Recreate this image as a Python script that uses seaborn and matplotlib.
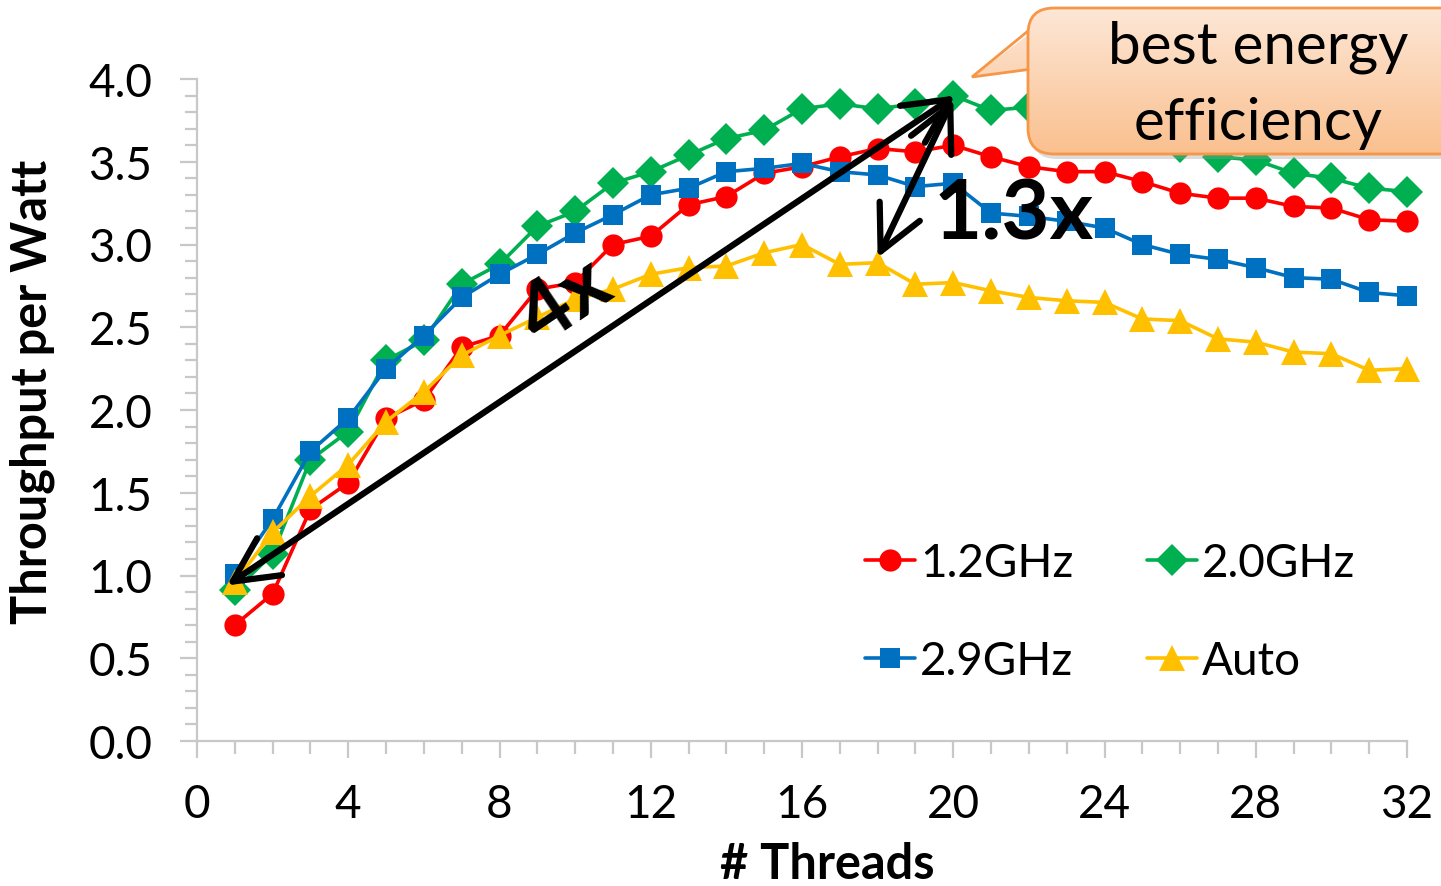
import numpy as np
import pandas as pd
import seaborn as sns
import matplotlib
matplotlib.use("Agg")
import matplotlib.pyplot as plt
from matplotlib.patches import FancyBboxPatch, Polygon
from matplotlib.lines import Line2D
from matplotlib.ticker import MultipleLocator
from matplotlib.colors import LinearSegmentedColormap

# ---------------- data ----------------
threads = list(range(1, 33))
ghz_1_2 = [0.70, 0.89, 1.40, 1.56, 1.95, 2.06, 2.38, 2.45, 2.73, 2.77, 3.00, 3.05,
           3.24, 3.29, 3.43, 3.47, 3.53, 3.58, 3.56, 3.60, 3.53, 3.47, 3.44, 3.44,
           3.38, 3.31, 3.28, 3.28, 3.23, 3.22, 3.15, 3.14]
ghz_2_0 = [0.91, 1.13, 1.70, 1.87, 2.30, 2.42, 2.76, 2.88, 3.11, 3.20, 3.37, 3.44,
           3.54, 3.64, 3.69, 3.82, 3.85, 3.82, 3.85, 3.90, 3.81, 3.83, 3.80, 3.73,
           3.66, 3.59, 3.53, 3.51, 3.43, 3.40, 3.34, 3.32]
ghz_2_9 = [1.01, 1.34, 1.75, 1.95, 2.25, 2.45, 2.68, 2.82, 2.94, 3.07, 3.18, 3.30,
           3.34, 3.44, 3.46, 3.49, 3.44, 3.42, 3.35, 3.37, 3.19, 3.17, 3.14, 3.10,
           3.00, 2.94, 2.91, 2.86, 2.80, 2.79, 2.71, 2.69]
auto = [0.96, 1.26, 1.48, 1.67, 1.93, 2.11, 2.33, 2.45, 2.56, 2.67, 2.73, 2.82,
        2.86, 2.87, 2.95, 3.00, 2.88, 2.89, 2.76, 2.77, 2.72, 2.68, 2.66, 2.65,
        2.55, 2.54, 2.43, 2.41, 2.35, 2.34, 2.24, 2.25]

series_names = ["1.2GHz", "2.0GHz", "2.9GHz", "Auto"]
series_values = [ghz_1_2, ghz_2_0, ghz_2_9, auto]
x_ticks = [0, 4, 8, 12, 16, 20, 24, 28, 32]
y_ticks = [0.0, 0.5, 1.0, 1.5, 2.0, 2.5, 3.0, 3.5, 4.0]
y_tick_labels = ["0.0", "0.5", "1.0", "1.5", "2.0", "2.5", "3.0", "3.5", "4.0"]

colors = ["#FF0000", "#00B050", "#0070C0", "#FFC000"]
markers = ["o", "D", "s", "^"]
msizes = [16, 16, 15, 19]

# ---------------- style ----------------
sns.set_theme(style="white")
plt.rcParams["font.family"] = ["Lato", "DejaVu Sans"]
plt.rcParams["text.color"] = "black"
plt.rcParams["axes.labelcolor"] = "black"

W, H = 1441, 887
fig = plt.figure(figsize=(W / 100, H / 100), dpi=100)
ax = fig.add_axes([197 / W, 145 / H, 1210 / W, 662 / H])

df = pd.DataFrame({
    "threads": threads * len(series_names),
    "value": sum(series_values, []),
    "series": sum([[n] * len(threads) for n in series_names], []),
})

handles = {}
for name, col, mk, ms in zip(series_names, colors, markers, msizes):
    sub = df[df["series"] == name]
    sns.lineplot(data=sub, x="threads", y="value", ax=ax, color=col,
                 marker=mk, markersize=ms, markeredgewidth=0, linewidth=2.6,
                 clip_on=False, label=name, legend=False)
    handles[name] = Line2D([], [], color=col, marker=mk, markersize=ms,
                           markeredgewidth=0, linewidth=2.6)

ax.set_xlim(0, 32)
ax.set_ylim(0, 4)
ax.set_xticks(x_ticks)
ax.set_yticks(y_ticks)
ax.set_yticklabels(y_tick_labels)
ax.xaxis.set_minor_locator(MultipleLocator(1))
ax.yaxis.set_minor_locator(MultipleLocator(0.1))
gray = "#c8c8c8"
for s in ["top", "right"]:
    ax.spines[s].set_visible(False)
for s in ["left", "bottom"]:
    ax.spines[s].set_color(gray)
    ax.spines[s].set_linewidth(1.6)
ax.tick_params(axis="both", which="both", bottom=True, left=True,
               top=False, right=False)
ax.tick_params(axis="both", which="major", direction="out", length=12, width=1.6,
               color=gray, labelsize=33, labelcolor="black")
ax.tick_params(axis="both", which="minor", direction="out", length=9, width=1.6,
               color=gray)
ax.tick_params(axis="x", which="major", pad=18)
ax.tick_params(axis="y", which="major", pad=20)
ax.grid(False)

ax.set_xlabel("# Threads", fontsize=35, fontweight="bold", color="black")
ax.set_ylabel("Throughput per Watt", fontsize=35, fontweight="bold", color="black")
ax.xaxis.set_label_coords((827 - 197) / 1210, (742 - 865) / 662)
ax.xaxis.label.set_va("center")
ax.yaxis.set_label_coords((32 - 197) / 1210, (742 - 392) / 662)
ax.yaxis.label.set_va("center")

# legend (row order: 1.2GHz, 2.0GHz / 2.9GHz, Auto)
order = ["1.2GHz", "2.9GHz", "2.0GHz", "Auto"]
leg = ax.legend([handles[n] for n in order], order, ncol=2, frameon=False,
                fontsize=33, loc="upper left",
                bbox_to_anchor=(842 / W, 1 - 520 / H), bbox_transform=fig.transFigure,
                handlelength=1.1, handletextpad=0.1, columnspacing=1.6,
                labelspacing=1.22, borderpad=0)
for t in leg.get_texts():
    t.set_color("black")

# arrows and ratio labels
arrow_kw = dict(arrowstyle="<->,head_length=1.0,head_width=0.5", lw=4.5,
                color="black", mutation_scale=32, shrinkA=0, shrinkB=0)
ax.annotate("", xy=(20.05, 3.90), xytext=(0.79, 0.94), arrowprops=arrow_kw,
            annotation_clip=False, zorder=6)
ax.annotate("", xy=(20.0, 3.88), xytext=(18.0, 2.92), arrowprops=arrow_kw,
            annotation_clip=False, zorder=6)
ax.text(9.75, 2.66, "4x", fontsize=60, fontweight="bold", rotation=34,
        ha="center", va="center", zorder=7, color="black")
ax.text(21.6, 3.18, "1.3x", fontsize=60, fontweight="bold",
        ha="center", va="center", zorder=7, color="black")

# callout box (overlay in pixel coordinates)
ov = fig.add_axes([0, 0, 1, 1], zorder=10)
ov.set_xlim(0, W)
ov.set_ylim(H, 0)
ov.axis("off")
ov.patch.set_alpha(0)

edge = "#F79646"
bx0, by0, bw, bh = 1028, 9, 460, 146
shadow = FancyBboxPatch((bx0 + 3, by0 + 5), bw, bh,
                        boxstyle="round,pad=0,rounding_size=26",
                        facecolor="#9a9a9a", edgecolor="none", alpha=0.35)
ov.add_patch(shadow)
box = FancyBboxPatch((bx0, by0), bw, bh, boxstyle="round,pad=0,rounding_size=26",
                     facecolor="none", edgecolor=edge, linewidth=2)
ov.add_patch(box)
tail = Polygon([(1036, 30), (972, 78), (1036, 71)], closed=True,
               facecolor="none", edgecolor="none")
ov.add_patch(tail)
grad = np.linspace(0, 1, 256).reshape(-1, 1)
cmap = LinearSegmentedColormap.from_list("peach", ["#FDE7D6", "#FAC08F"])
for clipper in (box, tail):
    im = ov.imshow(grad, extent=(960, W + 40, by0 + bh, by0), cmap=cmap,
                   aspect="auto", zorder=1)
    im.set_clip_path(clipper)
box.set_zorder(2)
ov.plot([1028, 972, 1028], [32, 78, 70.5], color=edge, lw=2, zorder=3,
        solid_joinstyle="miter")
ov.text(1258, 47, "best energy", fontsize=42, ha="center", va="center", zorder=4,
        color="black")
ov.text(1258, 123, "efficiency", fontsize=42, ha="center", va="center", zorder=4,
        color="black")

fig.savefig("out.png", dpi=100)
